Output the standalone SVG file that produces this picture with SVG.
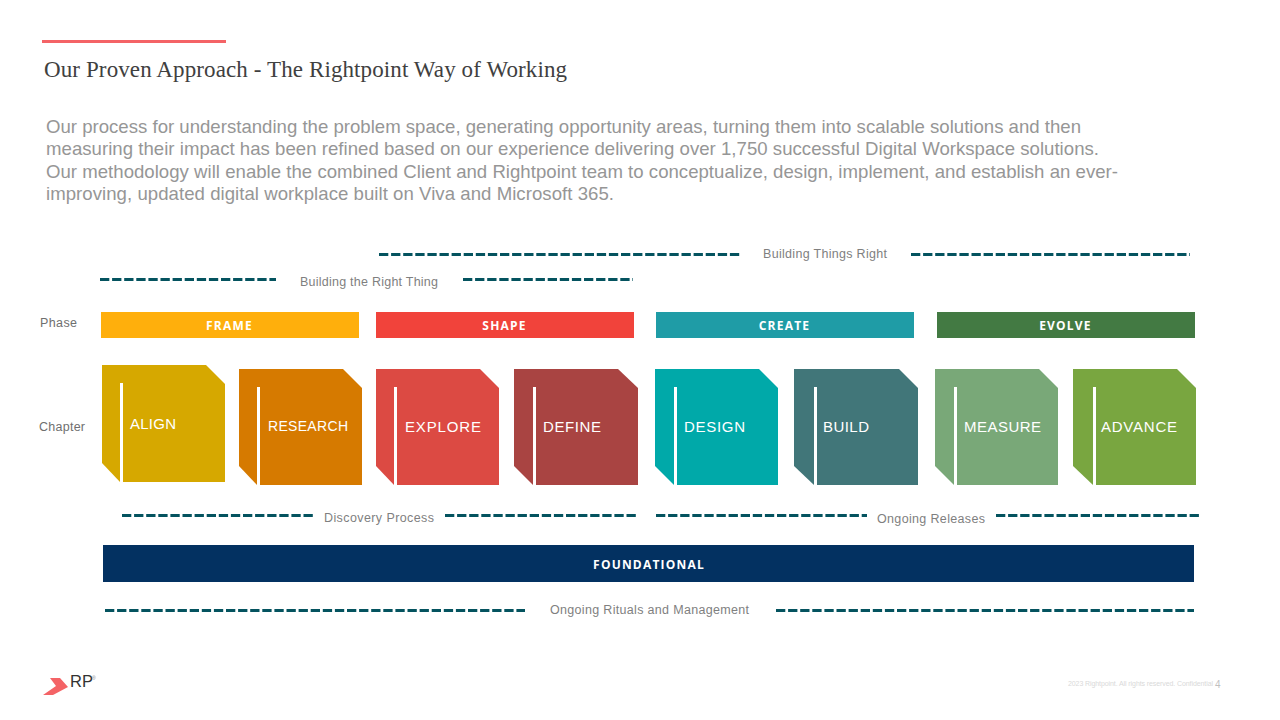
<svg xmlns="http://www.w3.org/2000/svg" width="1280" height="720" viewBox="0 0 1280 720">
<style>
text{font-family:"Liberation Sans",Arial,sans-serif}
.lbl{font-size:12.500px;fill:#7f7f7f}
.side{font-size:12.500px;fill:#6f6f6f}
.body{font-size:18.600px;fill:#969696}
.ph{font-size:12px;font-weight:700;fill:#fff;text-anchor:middle;letter-spacing:1.200px;font-family:"Open Sans","Liberation Sans",sans-serif}
.ch{font-size:15px;fill:#fff}
.bar{fill:#fff}
.dash{stroke:#04535f;stroke-width:3.200;stroke-dasharray:9.300 2.800;fill:none}
</style>
<rect width="1280" height="720" fill="#fff"/>
<rect x="42" y="40" width="184" height="3" fill="#f46366"/>
<text x="44" y="77" font-size="23" fill="#404040" style="font-family:'Liberation Serif','DejaVu Serif',serif" textLength="523">Our Proven Approach - The Rightpoint Way of Working</text>
<g id="intro">
<text class="body" x="46" y="133" textLength="1035">Our process for understanding the problem space, generating opportunity areas, turning them into scalable solutions and then</text>
<text class="body" x="46" y="155" textLength="1053">measuring their impact has been refined based on our experience delivering over 1,750 successful Digital Workspace solutions.</text>
<text class="body" x="46" y="178" textLength="1072">Our methodology will enable the combined Client and Rightpoint team to conceptualize, design, implement, and establish an ever-</text>
<text class="body" x="46" y="200" textLength="568">improving, updated digital workplace built on Viva and Microsoft 365.</text>
</g>
<g id="connectors">
<path class="dash" d="M379 254.500H740M911 254.500H1190M100 279.500H276M463 279.500H633M122 515.500H314M445 515.500H638M656 515.500H867M996 515.500H1200M105 610.500H525M776 610.500H1194"/>
</g>
<g id="labels">
<text class="lbl" x="763" y="258" textLength="124">Building Things Right</text>
<text class="lbl" x="300" y="286" textLength="138">Building the Right Thing</text>
<text class="lbl" x="324" y="522" textLength="110">Discovery Process</text>
<text class="lbl" x="877" y="523" textLength="108">Ongoing Releases</text>
<text class="lbl" x="550" y="614" textLength="199">Ongoing Rituals and Management</text>
<text class="side" x="40" y="327" textLength="37">Phase</text>
<text class="side" x="39" y="431" textLength="46">Chapter</text>
</g>
<g id="frame"><rect x="101" y="312" width="258" height="26" fill="#ffaf0c"/><text class="ph" x="229.500" y="330">FRAME</text></g>
<g id="shape-phase"><rect x="376" y="312" width="258" height="26" fill="#f1433b"/><text class="ph" x="504.500" y="330">SHAPE</text></g>
<g id="create"><rect x="656" y="312" width="258" height="26" fill="#1f9ca6"/><text class="ph" x="784.500" y="330">CREATE</text></g>
<g id="evolve"><rect x="937" y="312" width="258" height="26" fill="#437a43"/><text class="ph" x="1065.500" y="330">EVOLVE</text></g>
<g id="align"><polygon points="102,365 206,365 225,384 225,482 120,482 102,463" fill="#d6a800"/><rect class="bar" x="120" y="383" width="3" height="99"/><text class="ch" x="130" y="429" textLength="46">ALIGN</text></g>
<g id="research"><polygon points="239,369 343,369 362,388 362,485 257,485 239,466" fill="#d67a00"/><rect class="bar" x="257" y="387" width="3" height="98"/><text class="ch" x="268" y="431" style="font-size:14px" textLength="80">RESEARCH</text></g>
<g id="explore"><polygon points="376,369 480,369 499,388 499,485 394,485 376,466" fill="#dc4a43"/><rect class="bar" x="394" y="387" width="3" height="98"/><text class="ch" x="405" y="432" textLength="76">EXPLORE</text></g>
<g id="define"><polygon points="514,369 618,369 638,388 638,485 533,485 514,466" fill="#a94442"/><rect class="bar" x="533" y="387" width="3" height="98"/><text class="ch" x="543" y="432" textLength="58">DEFINE</text></g>
<g id="design"><polygon points="655,369 759,369 778,388 778,485 674,485 655,466" fill="#00a9a9"/><rect class="bar" x="674" y="387" width="3" height="98"/><text class="ch" x="684" y="432" textLength="61">DESIGN</text></g>
<g id="build"><polygon points="794,369 899,369 918,388 918,485 814,485 794,466" fill="#417679"/><rect class="bar" x="814" y="387" width="3" height="98"/><text class="ch" x="823" y="432" textLength="46">BUILD</text></g>
<g id="measure"><polygon points="935,369 1039,369 1058,388 1058,485 954,485 935,466" fill="#79a878"/><rect class="bar" x="954" y="387" width="3" height="98"/><text class="ch" x="964" y="432" textLength="77">MEASURE</text></g>
<g id="advance"><polygon points="1073,369 1177,369 1196,388 1196,485 1093,485 1073,466" fill="#79a640"/><rect class="bar" x="1093" y="387" width="3" height="98"/><text class="ch" x="1101" y="432" textLength="76">ADVANCE</text></g>
<g id="foundational"><rect x="103" y="545" width="1091" height="37" fill="#033161"/><text class="ph" x="649" y="569">FOUNDATIONAL</text></g>
<g id="logo">
<polygon points="50,678 60,678 68,687 53,695 43,695 56,686" fill="#f46366"/>
<text x="70" y="687" font-size="16.500" fill="#333">RP</text>
<text x="92" y="680" font-size="5" fill="#888">®</text>
</g>
<g id="footer">
<text x="1068" y="686" font-size="7" fill="#d9d9d9" textLength="145">2023 Rightpoint. All rights reserved. Confidential</text>
<text x="1215" y="688" font-size="10" fill="#bfbfbf">4</text>
</g>
</svg>
